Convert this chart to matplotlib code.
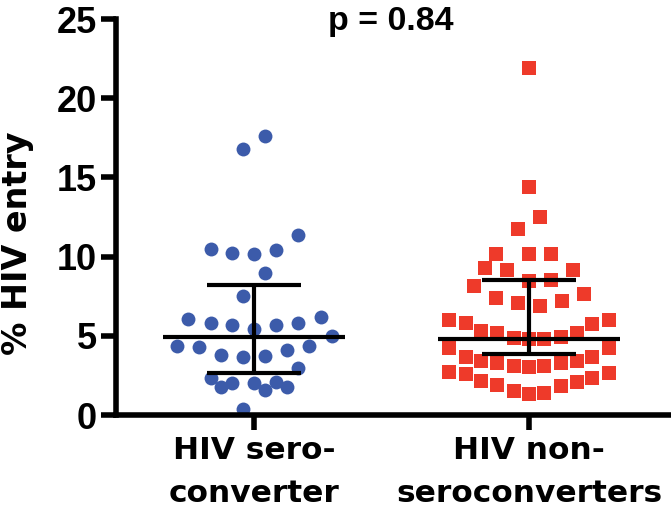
import matplotlib
matplotlib.use("Agg")
import matplotlib.pyplot as plt
import numpy as np

plt.rcParams['font.family'] = ['Liberation Sans', 'DejaVu Sans']

categories = ["HIV sero-\nconverter", "HIV non-\nseroconverters"]

sero_values = [17.6, 16.8, 11.35, 10.45, 10.2, 10.15, 10.4, 8.95, 7.5,
               6.05, 5.8, 5.67, 5.42, 5.67, 5.8, 6.18, 4.98,
               4.35, 4.28, 3.78, 3.65, 3.7, 4.1, 4.35, 2.96,
               2.33, 2.0, 1.76, 2.0, 2.08, 1.58, 1.76, 0.38]
sero_offsets = [0.04, -0.04, 0.16, -0.156, -0.08, 0.0, 0.08, 0.04, -0.04,
                -0.24, -0.156, -0.08, 0.0, 0.08, 0.16, 0.244, 0.284,
                -0.28, -0.2, -0.12, -0.04, 0.04, 0.12, 0.2, 0.16,
                -0.156, -0.08, -0.12, 0.0, 0.08, 0.04, 0.12, -0.04]

nonsero_values = [21.9, 14.39, 12.5, 11.76, 10.19, 10.19, 10.19, 9.28, 9.18, 9.18,
                  8.13, 8.46, 8.55, 7.39, 7.08, 6.87, 7.18, 7.67,
                  5.99, 5.82, 5.31, 5.15, 4.87, 4.77, 4.79, 4.93, 5.19, 5.73, 5.99,
                  4.2, 3.68, 3.42, 3.26, 3.09, 3.0, 3.09, 3.26, 3.42, 3.68, 4.2,
                  2.71, 2.57, 2.17, 1.89, 1.52, 1.32, 1.37, 1.84, 2.08, 2.36, 2.65]
nonsero_offsets = [0.0, 0.0, 0.04, -0.04, -0.12, 0.0, 0.08, -0.16, -0.08, 0.16,
                   -0.2, 0.0, 0.08, -0.12, -0.04, 0.04, 0.12, 0.2,
                   -0.29, -0.23, -0.175, -0.115, -0.055, 0.0, 0.055, 0.115, 0.175, 0.23, 0.29,
                   -0.29, -0.23, -0.175, -0.115, -0.055, 0.0, 0.055, 0.115, 0.175, 0.23, 0.29,
                   -0.29, -0.23, -0.175, -0.115, -0.055, 0.0, 0.055, 0.115, 0.175, 0.23, 0.29]

medians = [4.94, 4.79]
q1s = [2.67, 3.84]
q3s = [8.23, 8.5]

p_text = "p = 0.84"
ylabel = "% HIV entry"
yticks = [0, 5, 10, 15, 20, 25]

blue = "#3C5BAA"
red = "#EE3A2A"

fig = plt.figure(figsize=(6.71, 5.11), dpi=100)
ax = fig.add_axes([116/671, 96/511, 1 - 116/671, (415-19)/511])

ax.scatter(np.array(sero_offsets) + 0, sero_values, s=100, marker='o',
           color=blue, linewidths=0, zorder=2, clip_on=False)
ax.scatter(np.array(nonsero_offsets) + 1, nonsero_values, s=115, marker='s',
           color=red, linewidths=0, zorder=2, clip_on=False)

for i in range(2):
    ax.plot([i - 0.33, i + 0.33], [medians[i], medians[i]], color='black', lw=3, zorder=3, solid_capstyle='butt')
    ax.plot([i - 0.172, i + 0.172], [q1s[i], q1s[i]], color='black', lw=3, zorder=3, solid_capstyle='butt')
    ax.plot([i - 0.172, i + 0.172], [q3s[i], q3s[i]], color='black', lw=3, zorder=3, solid_capstyle='butt')
    ax.plot([i, i], [q1s[i], q3s[i]], color='black', lw=3, zorder=3, solid_capstyle='butt')

ax.set_xlim(-0.502, 1.516)
ax.set_ylim(0, 25)
ax.set_yticks(yticks)
ax.set_yticklabels([str(t) for t in yticks], fontsize=26, fontweight='bold')
ax.set_xticks([0, 1])
ax.set_xticklabels(categories, fontsize=22.5, fontweight='bold', linespacing=1.62,
                   family=['DejaVu Sans'])

for s in ['top', 'right']:
    ax.spines[s].set_visible(False)
for s in ['left', 'bottom']:
    ax.spines[s].set_linewidth(4)
ax.tick_params(axis='both', width=4, length=11, direction='out')
ax.tick_params(axis='x', pad=4)
ax.tick_params(axis='y', pad=3)

ax.set_ylabel(ylabel, fontsize=24, fontweight='bold', family=['DejaVu Sans'])
ax.yaxis.set_label_coords(-0.148, 0.434)

ax.text(0.498, 24.85, p_text, fontsize=24.5, fontweight='bold', ha='center', va='center')

fig.savefig("out.png", dpi=100)
